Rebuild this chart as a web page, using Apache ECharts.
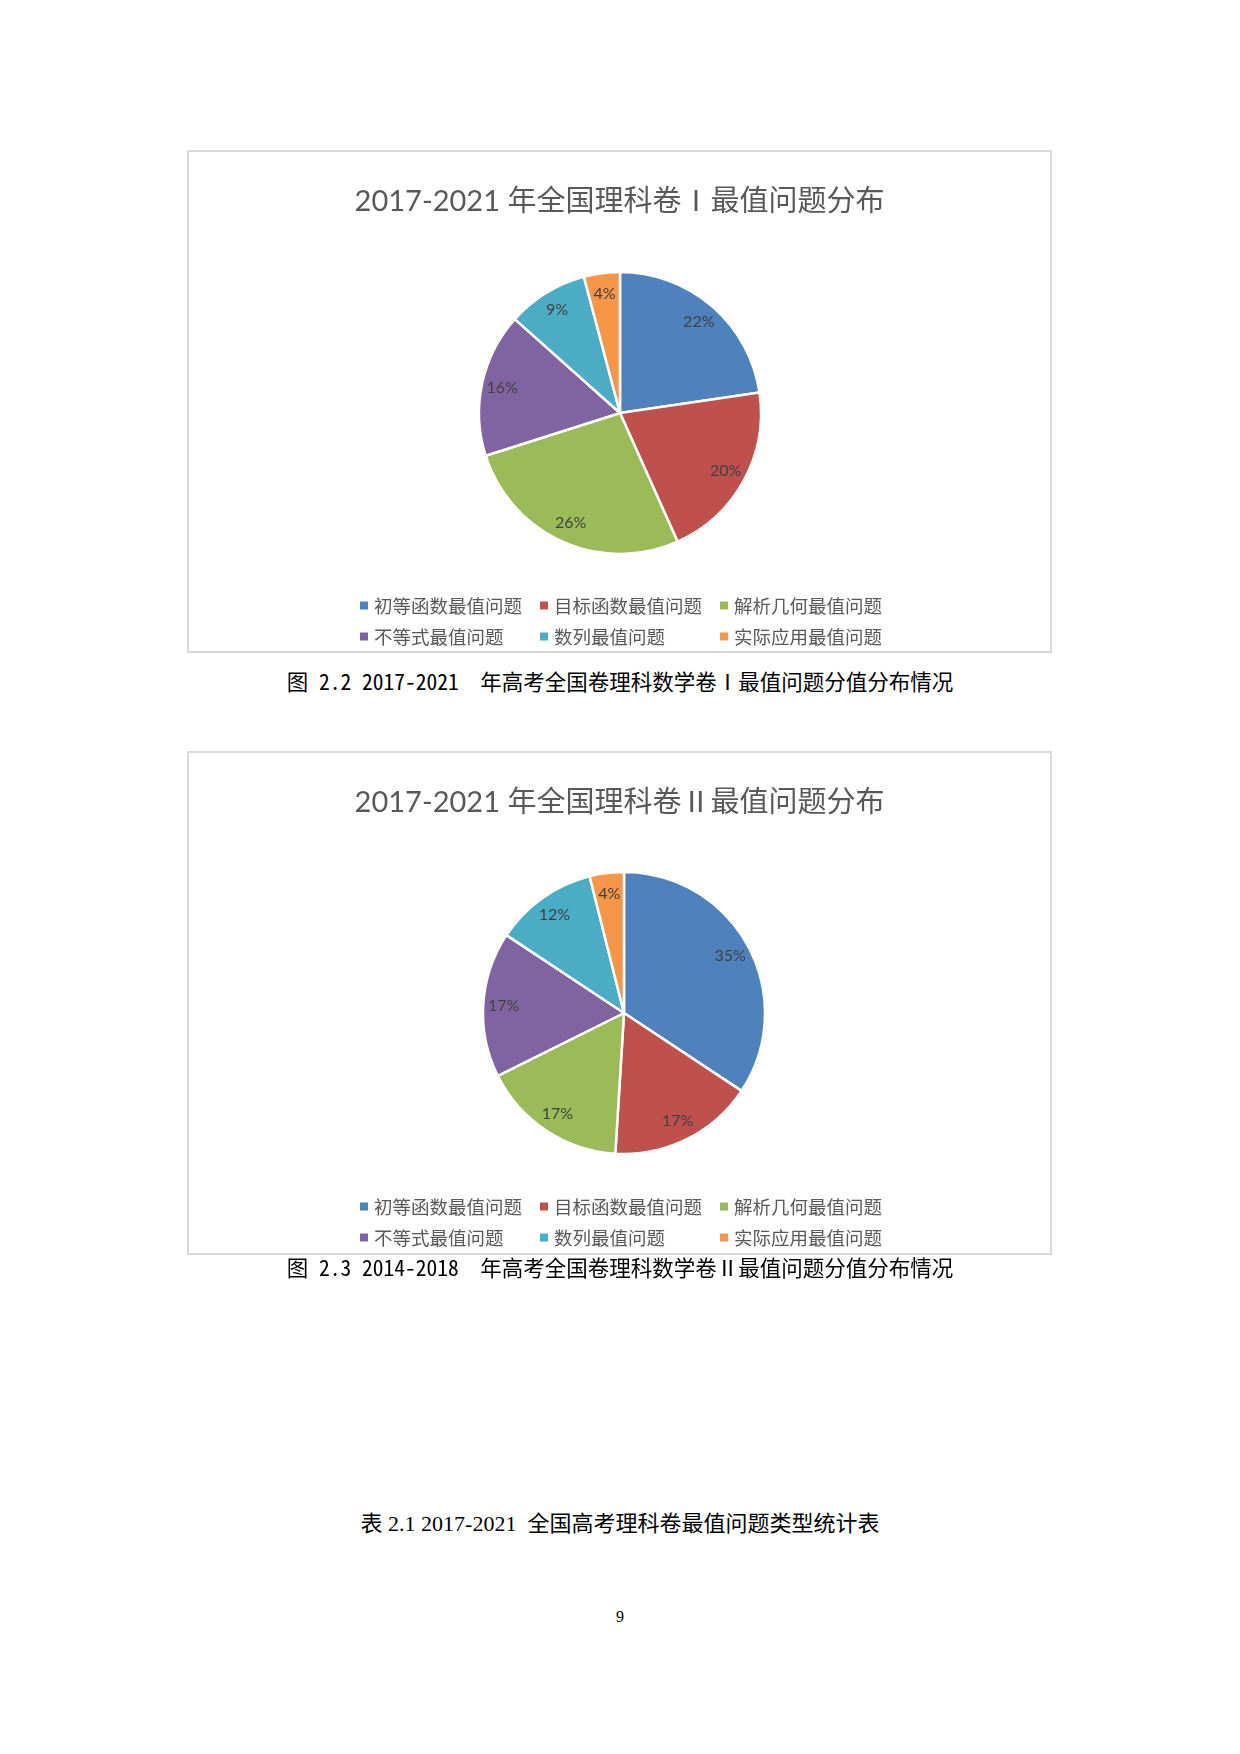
<!DOCTYPE html>
<html>
<head>
<meta charset="utf-8">
<script src="https://cdn.jsdelivr.net/npm/echarts@6/dist/echarts.min.js"></script>
<style>
  html, body { margin: 0; padding: 0; background: #fff; }
  body { width: 1240px; height: 1754px; position: relative; overflow: hidden; }
  .chart { position: absolute; left: 187px; width: 865px; height: 503px; }
  .frame { position: absolute; left: 187px; width: 865px; height: 503px; box-sizing: border-box;
           border: 2px solid #d9d9d9; pointer-events: none; }
  .cap { position: absolute; left: 0; width: 1240px; text-align: center; white-space: pre; color: #000; }
  .figcap { font-family: 'Noto Sans Mono CJK SC', 'Noto Sans CJK SC', sans-serif; font-size: 21.5px; line-height: 30px; }
  .tabcap { font-family: 'Liberation Serif', 'Noto Sans CJK SC', serif; font-size: 22px; line-height: 30px; }
  .pageno { font-family: 'Liberation Serif', serif; font-size: 16px; line-height: 20px; }
</style>
</head>
<body>
<div id="c1" class="chart" style="top:150px"></div>
<div class="frame" style="top:150px"></div>
<div class="cap figcap" style="top:666px">图 2.2 2017-2021  年高考全国卷理科数学卷Ⅰ最值问题分值分布情况</div>

<div id="c2" class="chart" style="top:751px; height:504px"></div>
<div class="frame" style="top:751px; height:504px"></div>
<div class="cap figcap" style="top:1252px">图 2.3 2014-2018  年高考全国卷理科数学卷Ⅱ最值问题分值分布情况</div>

<div class="cap tabcap" style="top:1509px">表 2.1 2017-2021  全国高考理科卷最值问题类型统计表</div>
<div class="cap pageno" style="top:1607px">9</div>

<script>
// ---- data ----
const categories = ['初等函数最值问题', '目标函数最值问题', '解析几何最值问题', '不等式最值问题', '数列最值问题', '实际应用最值问题'];
const valuesPaperI = [22, 20, 26, 16, 9, 4];
const valuesPaperII = [35, 17, 17, 17, 12, 4];
const titlePaperI = '2017-2021 年全国理科卷Ⅰ最值问题分布';
const titlePaperII = '2017-2021 年全国理科卷Ⅱ最值问题分布';
const palette = ['#4F81BD', '#C0504D', '#9BBB59', '#8064A2', '#4BACC6', '#F79646'];

function makeOption(title, values, cx, cy) {
  const R = 141;
  const K = 1.64; // move inside labels outward from the half-radius default
  return {
    animation: false,
    color: palette,
    title: {
      text: title,
      left: 'center',
      top: 32,
      textStyle: { fontFamily: "Lato, 'Noto Sans CJK SC', sans-serif", fontSize: 29, fontWeight: 'normal', color: '#595959' }
    },
    legend: {
      data: categories,
      left: 166,
      top: 441,
      width: 545,
      orient: 'horizontal',
      itemWidth: 10,
      itemHeight: 10,
      itemGap: 12,
      icon: 'rect',
      textStyle: { fontFamily: "'Noto Sans CJK SC', sans-serif", fontSize: 18.5, color: '#595959', width: 152, lineHeight: 19 }
    },
    series: [{
      type: 'pie',
      center: [cx, cy],
      radius: [0, R],
      startAngle: 90,
      clockwise: true,
      silent: true,
      itemStyle: { borderColor: '#ffffff', borderWidth: 2.5 },
      label: {
        show: true,
        position: 'inside',
        formatter: function (p) { return p.value + '%'; },
        fontFamily: "Lato, 'Noto Sans', sans-serif",
        fontSize: 16,
        color: '#404040'
      },
      labelLine: { show: false },
      labelLayout: function (p) {
        const lx = p.labelRect.x + p.labelRect.width / 2;
        const ly = p.labelRect.y + p.labelRect.height / 2;
        return { x: cx + (lx - cx) * K, y: cy + (ly - cy) * K };
      },
      data: categories.map(function (n, i) { return { name: n, value: values[i] }; })
    }]
  };
}

const chart1 = echarts.init(document.getElementById('c1'), null, { renderer: 'canvas' });
chart1.setOption(makeOption(titlePaperI, valuesPaperI, 433, 263));
const chart2 = echarts.init(document.getElementById('c2'), null, { renderer: 'canvas' });
chart2.setOption(makeOption(titlePaperII, valuesPaperII, 437, 262));
</script>
</body>
</html>
